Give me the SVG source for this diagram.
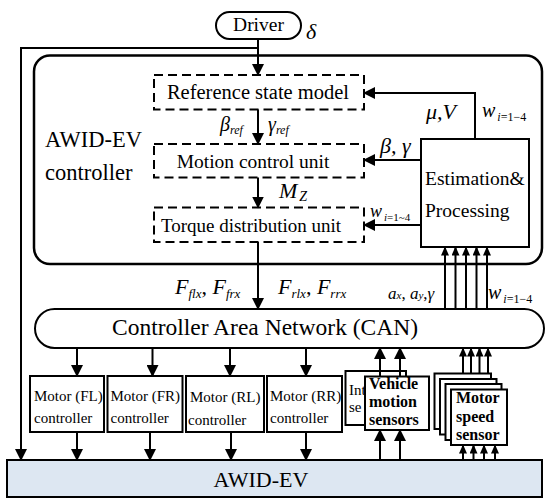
<svg xmlns="http://www.w3.org/2000/svg" width="550" height="503" viewBox="0 0 550 503">
<style>
  .ln{fill:none;stroke:#000;stroke-width:2}
  .box{fill:#fff;stroke:#000;stroke-width:2}
  .dash{fill:#fff;stroke:#000;stroke-width:2;stroke-dasharray:9 5}
  text{font-family:'Liberation Serif','Times New Roman',Tinos,'DejaVu Serif',serif;fill:#000}
  .m{font-style:italic}
  .b{font-weight:bold}
  .a{marker-end:url(#ah)}
  .s{marker-end:url(#as)}
</style>
<defs>
  <marker id="ah" markerUnits="userSpaceOnUse" markerWidth="12" markerHeight="12" refX="11" refY="6" orient="auto" viewBox="0 0 12 12">
    <path d="M0,0 L12,6 L0,12 z" fill="#000"/>
  </marker>
  <marker id="as" markerUnits="userSpaceOnUse" markerWidth="9" markerHeight="8" refX="8.5" refY="4" orient="auto" viewBox="0 0 9 8">
    <path d="M0,0 L9,4 L0,8 z" fill="#000"/>
  </marker>
</defs>

<rect width="550" height="503" fill="#fff"/>

<g font-family="Liberation Serif, Times New Roman, serif">
<g id="controller">
  <rect x="34" y="55.5" width="508" height="208.5" rx="16" fill="none" stroke="#000" stroke-width="2.5"/>
  <text class="t" x="45" y="147" font-size="22.5">AWID-EV</text>
  <text class="t" x="45" y="180" font-size="22.5">controller</text>
</g>

<g id="driver">
  <rect x="216" y="12" width="85" height="27" rx="13.5" class="box"/>
  <text class="t" x="258.5" y="31" font-size="19.5" text-anchor="middle">Driver</text>
</g>

<g id="ref-model">
  <rect x="154" y="75" width="210" height="34.5" class="dash"/>
  <text class="t" x="258" y="98.5" font-size="20.5" text-anchor="middle">Reference state model</text>
</g>

<g id="motion-control">
  <rect x="154" y="144" width="210" height="33.5" class="dash"/>
  <text class="t" x="253" y="168" font-size="19.5" text-anchor="middle">Motion control unit</text>
</g>

<g id="torque-dist">
  <rect x="154" y="207.5" width="210" height="34.5" class="dash"/>
  <text class="t" x="251" y="232" font-size="19" text-anchor="middle">Torque distribution unit</text>
</g>

<g id="estimation">
  <rect x="421" y="139" width="108" height="108" class="box"/>
  <text class="t" x="425" y="185" font-size="19.5">Estimation&amp;</text>
  <text class="t" x="425" y="217" font-size="19.5">Processing</text>
</g>

<g id="can">
  <rect x="35" y="309" width="509" height="39" rx="19.5" class="box"/>
  <text class="t" x="265" y="334.5" font-size="23.5" text-anchor="middle">Controller Area Network (CAN)</text>
</g>

<g id="motor-fl">
  <rect x="30" y="376" width="74" height="56" class="box"/>
  <text class="t" x="34" y="401" font-size="15">Motor (FL)</text>
  <text class="t" x="34" y="423" font-size="15">controller</text>
</g>
<g id="motor-fr">
  <rect x="107.5" y="376" width="75" height="56" class="box"/>
  <text class="t" x="110.5" y="401" font-size="15">Motor (FR)</text>
  <text class="t" x="110.5" y="423" font-size="15">controller</text>
</g>
<g id="motor-rl">
  <rect x="186" y="376" width="78" height="56" class="box"/>
  <text class="t" x="190" y="401.5" font-size="15">Motor (RL)</text>
  <text class="t" x="188" y="424.5" font-size="15">controller</text>
</g>
<g id="motor-rr">
  <rect x="267" y="376" width="75" height="56" class="box"/>
  <text class="t" x="270" y="401" font-size="15">Motor (RR)</text>
  <text class="t" x="270" y="423" font-size="15">controller</text>
</g>

<g id="inertial-sensors">
  <rect x="345.5" y="371" width="60.5" height="54" class="box"/>
  <text class="t" x="349" y="395" font-size="15">Int</text>
  <text class="t" x="349" y="412" font-size="15">se</text>
</g>
<g id="vehicle-motion-sensors">
  <rect x="365" y="376.5" width="64" height="53.5" class="box"/>
  <text class="b" x="369" y="388.5" font-size="16">Vehicle</text>
  <text class="b" x="369" y="406.5" font-size="16">motion</text>
  <text class="b" x="369" y="424.5" font-size="16">sensors</text>
</g>

<g id="motor-speed-sensor">
  <rect x="434.5" y="373.5" width="56.5" height="55.5" class="box"/>
  <rect x="440" y="379" width="56.5" height="55.5" class="box"/>
  <rect x="445.5" y="384" width="56" height="56" class="box"/>
  <rect x="451" y="389.5" width="56" height="55.5" class="box"/>
  <text class="b" x="456" y="403" font-size="16">Motor</text>
  <text class="b" x="456" y="421.5" font-size="16">speed</text>
  <text class="b" x="456" y="440" font-size="16">sensor</text>
</g>

<g id="awid-ev">
  <rect x="7" y="460" width="535" height="37" fill="#dde7f2" stroke="#000" stroke-width="2"/>
  <text class="t" x="261" y="487" font-size="22" text-anchor="middle">AWID-EV</text>
</g>

<g id="connectors">
  <line x1="258" y1="39" x2="258" y2="75" class="ln a"/>
  <polyline points="258,48 21,48 21,460" class="ln a"/>
  <line x1="258" y1="109.5" x2="258" y2="144" class="ln a"/>
  <line x1="258" y1="177.5" x2="258" y2="207.5" class="ln a"/>
  <line x1="258" y1="242" x2="258" y2="309" class="ln a"/>
  <polyline points="475,139 475,93 364,93" class="ln a"/>
  <line x1="421" y1="160" x2="364" y2="160" class="ln a"/>
  <line x1="421" y1="225" x2="364" y2="225" class="ln a"/>
  <line x1="445" y1="309" x2="445" y2="247" class="ln s"/>
  <line x1="455.5" y1="309" x2="455.5" y2="247" class="ln s"/>
  <line x1="466" y1="309" x2="466" y2="247" class="ln s"/>
  <line x1="476.5" y1="309" x2="476.5" y2="247" class="ln s"/>
  <line x1="487" y1="309" x2="487" y2="247" class="ln s"/>
  <line x1="77" y1="348" x2="77" y2="376" class="ln a"/>
  <line x1="152.5" y1="348" x2="152.5" y2="376" class="ln a"/>
  <line x1="230" y1="348" x2="230" y2="376" class="ln a"/>
  <line x1="306" y1="348" x2="306" y2="376" class="ln a"/>
  <line x1="77" y1="432" x2="77" y2="460" class="ln a"/>
  <line x1="150" y1="432" x2="150" y2="460" class="ln a"/>
  <line x1="231" y1="432" x2="231" y2="460" class="ln a"/>
  <line x1="306" y1="432" x2="306" y2="460" class="ln a"/>
  <line x1="380" y1="376.5" x2="380" y2="348" class="ln a"/>
  <line x1="400" y1="376.5" x2="400" y2="348" class="ln a"/>
  <line x1="380" y1="460" x2="380" y2="430" class="ln a"/>
  <line x1="400" y1="460" x2="400" y2="430" class="ln a"/>
  <line x1="463" y1="373.5" x2="463" y2="348" class="ln s"/>
  <line x1="471" y1="373.5" x2="471" y2="348" class="ln s"/>
  <line x1="479.5" y1="373.5" x2="479.5" y2="348" class="ln s"/>
  <line x1="488" y1="373.5" x2="488" y2="348" class="ln s"/>
  <line x1="463" y1="460" x2="463" y2="445" class="ln s"/>
  <line x1="473.5" y1="460" x2="473.5" y2="445" class="ln s"/>
  <line x1="484" y1="460" x2="484" y2="445" class="ln s"/>
  <line x1="495" y1="460" x2="495" y2="445" class="ln s"/>
</g>

<g id="labels">
  <text class="m" x="306" y="39" font-size="22">δ</text>
  <text class="m" x="220" y="131" font-size="20">β<tspan font-size="12" dy="3">ref</tspan></text>
  <text class="m" x="268" y="131" font-size="20">γ<tspan font-size="12" dy="3">ref</tspan></text>
  <text class="m" x="279" y="198" font-size="22">M<tspan font-size="14" dy="3" dx="2">Z</tspan></text>
  <text class="m" x="426" y="119" font-size="22">μ,V</text>
  <text class="m" x="482" y="117" font-size="20">w<tspan font-size="12" dy="4" dx="2">i</tspan><tspan font-size="12" font-style="normal">=1−4</tspan></text>
  <text class="m" x="380" y="153" font-size="22">β, γ</text>
  <text class="m" x="370" y="217" font-size="18">w<tspan font-size="11" dy="4" dx="2">i</tspan><tspan font-size="11" font-style="normal">=1~4</tspan></text>
  <text class="m" x="175" y="294" font-size="22">F<tspan font-size="13" dy="4">flx</tspan><tspan dy="-4" font-style="normal">, </tspan>F<tspan font-size="13" dy="4">frx</tspan></text>
  <text class="m" x="278" y="294" font-size="22">F<tspan font-size="13" dy="4">rlx</tspan><tspan dy="-4" font-style="normal">, </tspan>F<tspan font-size="13" dy="4">rrx</tspan></text>
  <text class="m" x="388" y="299" font-size="17">a<tspan font-size="11">x</tspan><tspan font-style="normal">, </tspan>a<tspan font-size="11">y</tspan><tspan font-style="normal">,</tspan>γ</text>
  <text class="m" x="488" y="299" font-size="20">w<tspan font-size="12" dy="4" dx="2">i</tspan><tspan font-size="12" font-style="normal">=1−4</tspan></text>
</g>
</g>
</svg>
